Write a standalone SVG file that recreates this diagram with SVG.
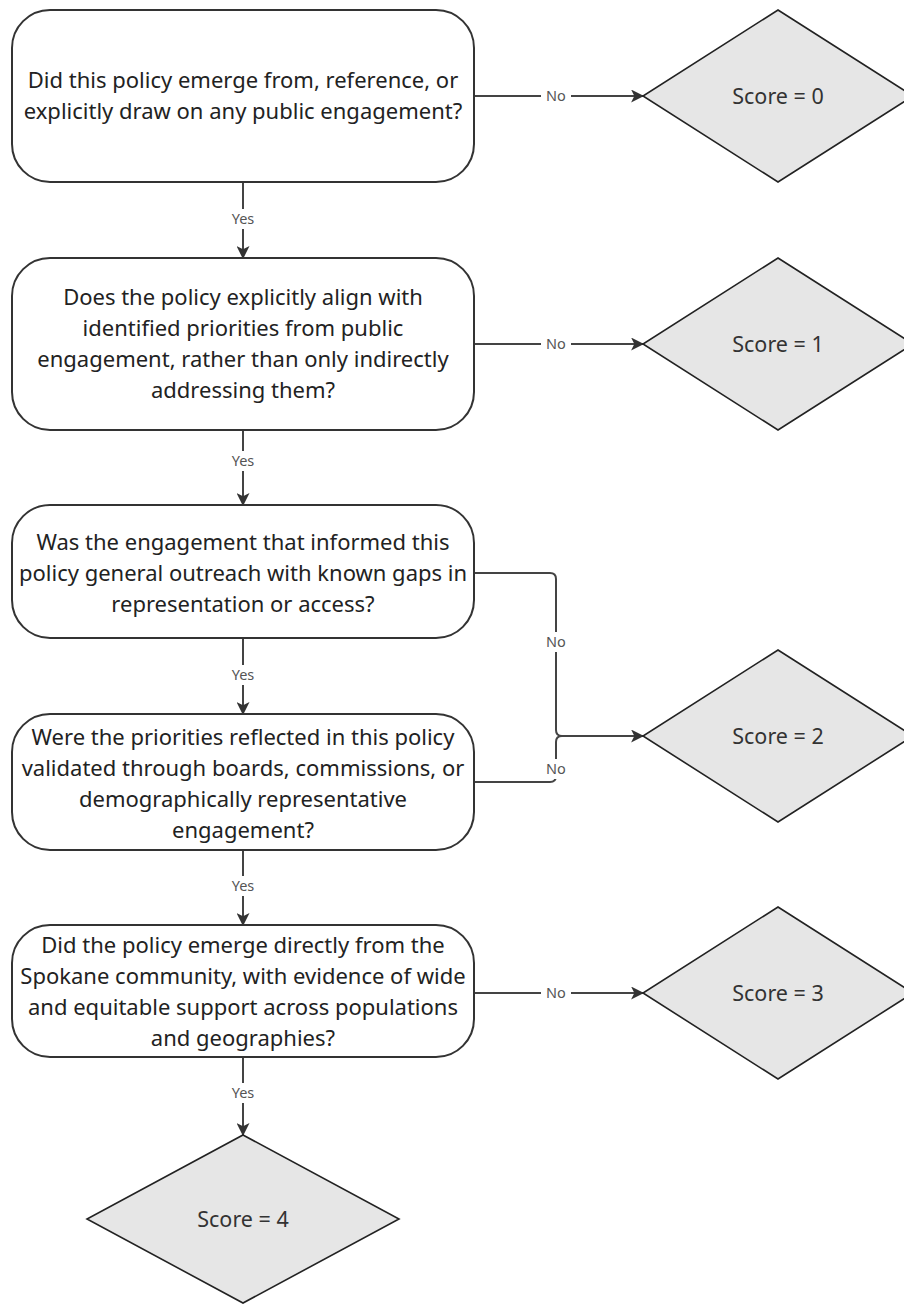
<svg xmlns="http://www.w3.org/2000/svg" width="904" height="1304" viewBox="0 0 904 1304">
<defs>
<marker id="arr" viewBox="0 0 12 12" refX="11" refY="6" markerWidth="13" markerHeight="13" markerUnits="userSpaceOnUse" orient="auto">
<path d="M0,0 L12,6 L0,12 L3,6 Z" fill="#333"/>
</marker>
</defs>
<style>
.q{fill:#fff;stroke:#333;stroke-width:2}
.d{fill:#e6e6e6;stroke:#222;stroke-width:1.6}
.t{font-family:"Noto Sans","Open Sans",sans-serif;font-size:22px;fill:#222;text-anchor:middle}
.s{font-family:"Noto Sans","Open Sans",sans-serif;font-size:21.5px;fill:#333;text-anchor:middle}
.c{fill:none;stroke:#444;stroke-width:2}
.l{font-family:"Noto Sans","Open Sans",sans-serif;font-size:14.5px;fill:#555;text-anchor:middle}
.lb{fill:#fff}
</style>
<rect width="904" height="1304" fill="#fff"/>
<g id="connectors">
<path class="c" d="M474,96 H643" marker-end="url(#arr)"/>
<path class="c" d="M474,344 H643" marker-end="url(#arr)"/>
<path class="c" d="M474,993 H643" marker-end="url(#arr)"/>
<path class="c" d="M243,182 V258" marker-end="url(#arr)"/>
<path class="c" d="M243,430 V505" marker-end="url(#arr)"/>
<path class="c" d="M243,638 V714" marker-end="url(#arr)"/>
<path class="c" d="M243,850 V925" marker-end="url(#arr)"/>
<path class="c" d="M243,1057 V1135" marker-end="url(#arr)"/>
<path class="c" d="M474,573 H550 Q556,573 556,579 V730 Q556,736 562,736 H643" marker-end="url(#arr)"/>
<path class="c" d="M474,782 H550 Q556,782 556,776 V742 Q556,736 562,736"/>
<rect class="lb" x="541" y="86" width="30" height="20"/>
<text class="l" x="556" y="101">No</text>
<rect class="lb" x="541" y="334" width="30" height="20"/>
<text class="l" x="556" y="349">No</text>
<rect class="lb" x="541" y="983" width="30" height="20"/>
<text class="l" x="556" y="998">No</text>
<rect class="lb" x="543" y="632" width="26" height="20"/>
<text class="l" x="556" y="647">No</text>
<rect class="lb" x="543" y="759" width="26" height="20"/>
<text class="l" x="556" y="774">No</text>
<rect class="lb" x="227" y="209" width="32" height="20"/>
<text class="l" x="243" y="224">Yes</text>
<rect class="lb" x="227" y="451" width="32" height="20"/>
<text class="l" x="243" y="466">Yes</text>
<rect class="lb" x="227" y="665" width="32" height="20"/>
<text class="l" x="243" y="680">Yes</text>
<rect class="lb" x="227" y="876" width="32" height="20"/>
<text class="l" x="243" y="891">Yes</text>
<rect class="lb" x="227" y="1083" width="32" height="20"/>
<text class="l" x="243" y="1098">Yes</text>
</g>
<g id="q1">
<rect class="q" x="12" y="10" width="462" height="172" rx="38"/>
<text class="t" x="243" y="88">Did this policy emerge from, reference, or</text>
<text class="t" x="243" y="119">explicitly draw on any public engagement?</text>
</g>
<g id="q2">
<rect class="q" x="12" y="258" width="462" height="172" rx="38"/>
<text class="t" x="243" y="305">Does the policy explicitly align with</text>
<text class="t" x="243" y="336">identified priorities from public</text>
<text class="t" x="243" y="367">engagement, rather than only indirectly</text>
<text class="t" x="243" y="398">addressing them?</text>
</g>
<g id="q3">
<rect class="q" x="12" y="505" width="462" height="133" rx="38"/>
<text class="t" x="243" y="550">Was the engagement that informed this</text>
<text class="t" x="243" y="581">policy general outreach with known gaps in</text>
<text class="t" x="243" y="612">representation or access?</text>
</g>
<g id="q4">
<rect class="q" x="12" y="714" width="462" height="136" rx="38"/>
<text class="t" x="243" y="745">Were the priorities reflected in this policy</text>
<text class="t" x="243" y="776">validated through boards, commissions, or</text>
<text class="t" x="243" y="807">demographically representative</text>
<text class="t" x="243" y="838">engagement?</text>
</g>
<g id="q5">
<rect class="q" x="12" y="925" width="462" height="132" rx="38"/>
<text class="t" x="243" y="953">Did the policy emerge directly from the</text>
<text class="t" x="243" y="984">Spokane community, with evidence of wide</text>
<text class="t" x="243" y="1015">and equitable support across populations</text>
<text class="t" x="243" y="1046">and geographies?</text>
</g>
<g id="s0">
<polygon class="d" points="778,10 913,96 778,182 643,96"/>
<text class="s" x="778" y="104">Score = 0</text>
</g>
<g id="s1">
<polygon class="d" points="778,258 913,344 778,430 643,344"/>
<text class="s" x="778" y="352">Score = 1</text>
</g>
<g id="s2">
<polygon class="d" points="778,650 913,736 778,822 643,736"/>
<text class="s" x="778" y="744">Score = 2</text>
</g>
<g id="s3">
<polygon class="d" points="778,907 913,993 778,1079 643,993"/>
<text class="s" x="778" y="1001">Score = 3</text>
</g>
<g id="s4">
<polygon class="d" points="243,1135 399,1219 243,1303 87,1219"/>
<text class="s" x="243" y="1227">Score = 4</text>
</g>
</svg>
